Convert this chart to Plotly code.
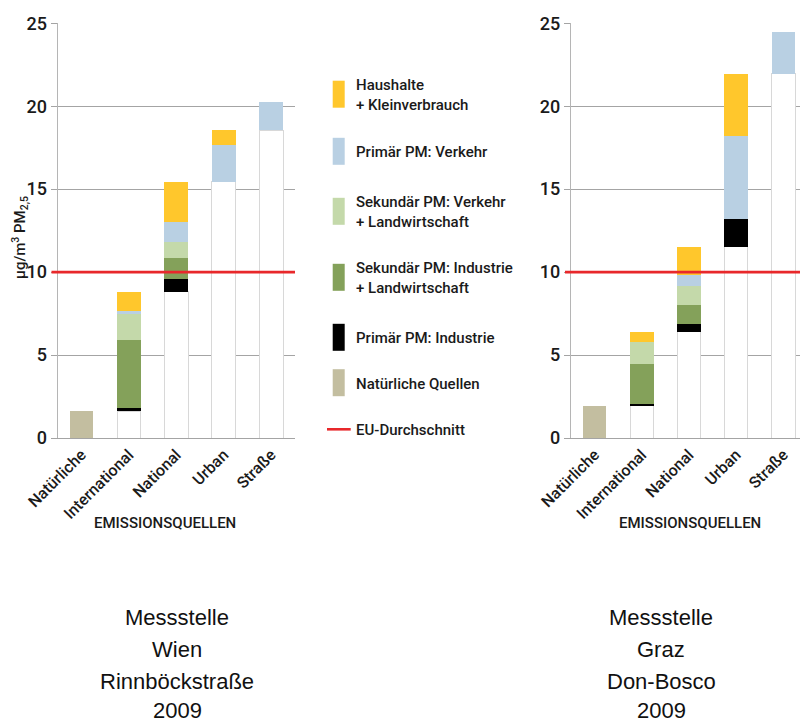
import plotly.graph_objects as go

# ---------------- data ----------------
categories = ["Natürliche", "International", "National", "Urban", "Straße"]

series_names = [
    "Natürliche Quellen",
    "Primär PM: Industrie",
    "Sekundär PM: Industrie<br>+ Landwirtschaft",
    "Sekundär PM: Verkehr<br>+ Landwirtschaft",
    "Primär PM: Verkehr",
    "Haushalte<br>+ Kleinverbrauch",
]
series_colors = ["#C3BEA0", "#000000", "#84A15A", "#C4D9AA", "#B9D0E3", "#FFC72C"]

# Wien Rinnböckstraße 2009 (µg/m³ contribution per step)
wien_natural = [1.6, 0, 0, 0, 0]
wien_prim_ind = [0, 0.23, 0.78, 0, 0]
wien_sek_ind = [0, 4.07, 1.28, 0, 0]
wien_sek_verk = [0, 1.60, 0.93, 0, 0]
wien_prim_verk = [0, 0.13, 1.23, 2.20, 1.67]
wien_haushalt = [0, 1.18, 2.43, 0.90, 0]

# Graz Don-Bosco 2009
graz_natural = [1.95, 0, 0, 0, 0]
graz_prim_ind = [0, 0.07, 0.44, 1.68, 0]
graz_sek_ind = [0, 2.43, 1.16, 0, 0]
graz_sek_verk = [0, 1.34, 1.16, 0, 0]
graz_prim_verk = [0, 0, 0.64, 4.97, 2.48]
graz_haushalt = [0, 0.63, 1.71, 3.79, 0]

eu_average = 10
y_ticks = [0, 5, 10, 15, 20, 25]

station_left = ["Messstelle", "Wien", "Rinnböckstraße", "2009"]
station_right = ["Messstelle", "Graz", "Don-Bosco", "2009"]
x_title = "EMISSIONSQUELLEN"
y_title = "µg/m<sup>3</sup> PM<sub>2,5</sub>"

# ---------------- figure ----------------
W, H = 800, 722
FONT = "Roboto, Liberation Sans Narrow, sans-serif"
TXT = "#1a1a1a"
GRID = "#a4a4a4"
RED = "#E8282B"


def px(x):
    return x / W


def py(y):
    return 1 - y / H


fig = go.Figure()


def add_station(series, xa, ya):
    # cumulative base (white part): previous categories' total
    totals = [sum(s[i] for s in series) for i in range(len(categories))]
    base = [0]
    for i in range(1, len(categories)):
        base.append(base[-1] + totals[i - 1])
    fig.add_trace(go.Bar(
        x=categories, y=base, xaxis=xa, yaxis=ya, width=0.5,
        marker=dict(color="white", line=dict(color="#d8d8d8", width=1)),
        showlegend=False, hoverinfo="skip"))
    for name, col, vals in zip(series_names, series_colors, series):
        fig.add_trace(go.Bar(
            x=categories, y=vals, xaxis=xa, yaxis=ya, width=0.5, name=name,
            marker=dict(color=col, line=dict(width=0)), showlegend=False))


add_station([wien_natural, wien_prim_ind, wien_sek_ind, wien_sek_verk,
             wien_prim_verk, wien_haushalt], "x", "y")
add_station([graz_natural, graz_prim_ind, graz_sek_ind, graz_sek_verk,
             graz_prim_verk, graz_haushalt], "x2", "y2")

ydom = [py(438), py(23.3)]
xdom1 = [px(57.7), px(295)]
xdom2 = [px(571), 1.0]

common_y = dict(range=[0, 25], tickvals=y_ticks, showgrid=True, gridcolor=GRID,
                gridwidth=1.3, showline=True, linecolor="#b5b5b5", linewidth=1.3,
                ticks="outside", ticklen=6, tickcolor=GRID, tickwidth=1.3,
                tickfont=dict(family=FONT, size=18, color=TXT, weight=500),
                zeroline=False, automargin=False,
                domain=ydom, fixedrange=True)
common_x = dict(type="category", tickangle=-45, showline=True, linecolor=GRID,
                linewidth=1.3, ticks="", showgrid=False, automargin=False,
                tickfont=dict(family=FONT, size=16, color=TXT, weight=500))

fig.update_layout(
    width=W, height=H, margin=dict(l=0, r=0, t=0, b=0, autoexpand=False),
    paper_bgcolor="white", plot_bgcolor="white", barmode="stack",
    bargap=0.5, showlegend=False,
    xaxis=dict(domain=xdom1, range=[-0.5, 4.5], anchor="y", **common_x),
    yaxis=dict(anchor="x", **common_y),
    xaxis2=dict(domain=xdom2, range=[-0.5, 4.352], anchor="y2", **common_x),
    yaxis2=dict(anchor="x2", **common_y),
)

shapes = []
# EU average lines
shapes.append(dict(type="line", xref="paper", yref="y", x0=px(51.5), x1=px(295),
                   y0=eu_average, y1=eu_average, line=dict(color=RED, width=2.6)))
shapes.append(dict(type="line", xref="paper", yref="y2", x0=px(565), x1=1.0,
                   y0=eu_average, y1=eu_average, line=dict(color=RED, width=2.6)))

annotations = []
# Legend (custom, to match irregular spacing)
legend_order = [5, 4, 3, 2, 1, 0]
legend_centers = [94.2, 151.3, 211.3, 277.3, 337.3, 382.7]
for idx, cy in zip(legend_order, legend_centers):
    shapes.append(dict(type="rect", xref="paper", yref="paper",
                       x0=px(332.7), x1=px(344.7), y0=py(cy + 13.5), y1=py(cy - 13.5),
                       fillcolor=series_colors[idx], line=dict(width=0)))
    annotations.append(dict(xref="paper", yref="paper", x=px(354), y=py(cy + 1),
                            text=series_names[idx], showarrow=False, xanchor="left",
                            yanchor="middle", align="left",
                            font=dict(family=FONT, size=15, color=TXT, weight=500)))
shapes.append(dict(type="line", xref="paper", yref="paper", x0=px(327), x1=px(350.7),
                   y0=py(429.3), y1=py(429.3), line=dict(color=RED, width=2.6)))
annotations.append(dict(xref="paper", yref="paper", x=px(354), y=py(430),
                        text="EU-Durchschnitt", showarrow=False, xanchor="left",
                        yanchor="middle",
                        font=dict(family=FONT, size=15, color=TXT, weight=500)))

# axis titles
for cx in (165, 690):
    annotations.append(dict(xref="paper", yref="paper", x=px(cx), y=py(523),
                            text=x_title, showarrow=False, xanchor="center",
                            yanchor="middle",
                            font=dict(family=FONT, size=15, color=TXT, weight=500)))
annotations.append(dict(xref="paper", yref="paper", x=px(20), y=py(238),
                        text=y_title, showarrow=False, textangle=-90,
                        xanchor="center", yanchor="middle",
                        font=dict(family=FONT, size=15, color=TXT, weight=500)))

# station captions
line_y = [617, 649, 681, 710.5]
for lines, cx in ((station_left, 177), (station_right, 661)):
    for t, ly in zip(lines, line_y):
        annotations.append(dict(xref="paper", yref="paper", x=px(cx), y=py(ly),
                                text=t, showarrow=False, xanchor="center",
                                yanchor="middle",
                                font=dict(family="Liberation Sans, Arial, sans-serif",
                                          size=22, color="#111111")))

fig.update_layout(shapes=shapes, annotations=annotations)
fig.write_html(
    "out.html",
    config={"displayModeBar": False},
    post_script="document.body.style.margin='0';document.body.style.overflow='hidden';",
)
